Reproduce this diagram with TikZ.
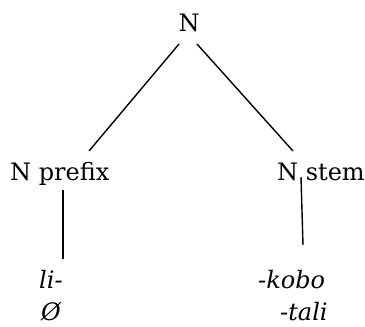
\documentclass[tikz,border=0pt]{standalone}
\usepackage{fontspec}
\setmainfont{DejaVu Serif}
\begin{document}
\begin{tikzpicture}[x=1pt,y=1pt,
  lbl/.style={inner sep=0pt,anchor=base west,font=\fontsize{24}{28}\selectfont},
  ilbl/.style={lbl,font=\fontsize{24}{28}\selectfont\itshape},
  edge/.style={line width=1.4pt}]
\useasboundingbox (0,0) rectangle (365,-327);
\node[lbl,anchor=base] (n) at (189,-31) {N};
\node[lbl] (pre) at (10,-180) {N prefix};
\node[lbl] (stem) at (277,-180) {N stem};
\node[ilbl] (li) at (39,-288) {li-};
\node[ilbl] (zero) at (41,-320) {Ø};
\node[ilbl] (kobo) at (258,-288) {-kobo};
\node[ilbl] (tali) at (280,-320) {-tali};
\coordinate (nl) at (179,-44);
\coordinate (nr) at (197,-44);
\coordinate (pt) at (89,-151);
\coordinate (st) at (293,-151);
\coordinate (pb) at (63,-190);
\coordinate (lt) at (63,-259);
\coordinate (sb) at (301,-177);
\coordinate (kt) at (303,-245);
\draw[edge] (nl) -- (pt);
\draw[edge] (nr) -- (st);
\draw[edge] (pb) -- (lt);
\draw[edge] (sb) -- (kt);
\end{tikzpicture}
\end{document}
